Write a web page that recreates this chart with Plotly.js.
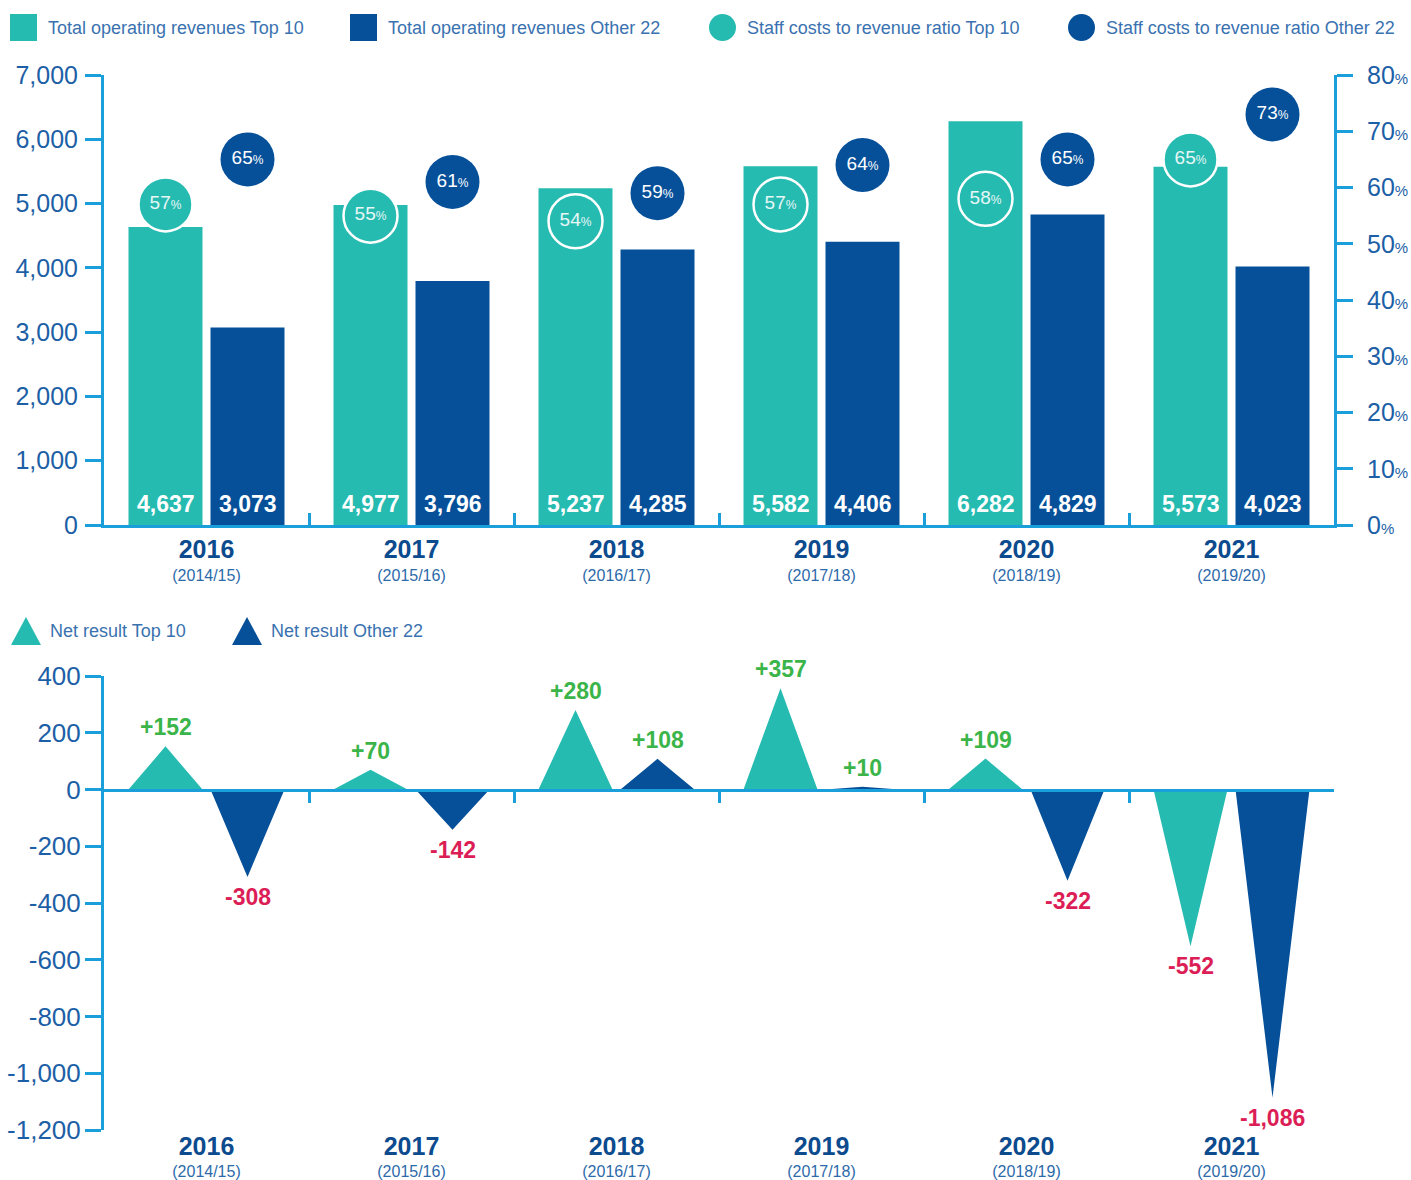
<!DOCTYPE html>
<html><head><meta charset="utf-8">
<script src="https://cdn.plot.ly/plotly-3.0.1.min.js"></script>
<style>html,body{margin:0;padding:0;background:#fff}#chart{width:1411px;height:1180px}</style>
</head><body><div id="chart"></div>
<script>
// ---------- DATA ----------
const years = ['2016','2017','2018','2019','2020','2021'];
const seasons = ['(2014/15)','(2015/16)','(2016/17)','(2017/18)','(2018/19)','(2019/20)'];
const revenueTop10 = [4637, 4977, 5237, 5582, 6282, 5573];
const revenueOther22 = [3073, 3796, 4285, 4406, 4829, 4023];
const staffRatioTop10 = [57, 55, 54, 57, 58, 65];
const staffRatioOther22 = [65, 61, 59, 64, 65, 73];
const netResultTop10 = [152, 70, 280, 357, 109, -552];
const netResultOther22 = [-308, -142, 108, 10, -322, -1086];
const revenueTicks = [0, 1000, 2000, 3000, 4000, 5000, 6000, 7000];
const ratioTicks = [0, 10, 20, 30, 40, 50, 60, 70, 80];
const netTicks = [-1200, -1000, -800, -600, -400, -200, 0, 200, 400];
const legendTopLabels = ['Total operating revenues Top 10','Total operating revenues Other 22','Staff costs to revenue ratio Top 10','Staff costs to revenue ratio Other 22'];
const legendBottomLabels = ['Net result Top 10','Net result Other 22'];

// ---------- STYLE ----------
const W = 1411, H = 1180;
const FONT = '"Liberation Sans", Arial, sans-serif';
const TEAL = '#26bbb1', NAVY = '#06509a', AXIS = '#1a9fdb', TICK = '#1d5fa6';
const LEGTXT = '#3a72b0', YEAR = '#0c4b8e', SEASON = '#2d6aaa', GREEN = '#3bb54a', RED = '#dc1e57';
const BARGAP = 0.2, GROUPGAP = 0.0975;
const SLOT = (1 - BARGAP) / 2;
const OFF = SLOT / 2;
const HALF = SLOT * (1 - GROUPGAP) / 2;

const px = v => v / W, py = v => 1 - v / H;
const xDom = [px(104), px(1334)];
const topDom = [py(525), py(75)];
const botDom = [py(1130), py(676)];
const idx = years.map((_, i) => i);
const between = idx.slice(0, -1).map(i => i + 0.5);
const catText = years.map((y, i) => `<b><span style="font-size:25px">${y}</span></b><br><span style="font-size:16px;color:${SEASON}">${seasons[i]}</span>`);
const fmt = v => (v < 0 ? '-' : '') + Math.abs(v).toLocaleString('en-US');
const pctText = v => `${v}<span style="font-size:12px">%</span>`;

// ---------- TRACES ----------
const traces = [];
traces.push({type:'bar', x:idx, y:revenueTop10, xaxis:'x', yaxis:'y', marker:{color:TEAL}, hoverinfo:'skip', name:legendTopLabels[0]});
traces.push({type:'bar', x:idx, y:revenueOther22, xaxis:'x', yaxis:'y', marker:{color:NAVY}, hoverinfo:'skip', name:legendTopLabels[1]});
traces.push({type:'scatter', mode:'markers+text', x:idx.map(i => i - OFF), y:staffRatioTop10, xaxis:'x', yaxis:'y2',
  marker:{size:54, color:TEAL, line:{color:'#ffffff', width:2.5}}, text:staffRatioTop10.map(pctText),
  textposition:'middle center', textfont:{family:FONT, size:19, color:'#e6f7f5'}, hoverinfo:'skip', name:legendTopLabels[2]});
traces.push({type:'scatter', mode:'markers+text', x:idx.map(i => i + OFF), y:staffRatioOther22, xaxis:'x', yaxis:'y2',
  marker:{size:54, color:NAVY}, text:staffRatioOther22.map(pctText),
  textposition:'middle center', textfont:{family:FONT, size:19, color:'#ffffff'}, hoverinfo:'skip', name:legendTopLabels[3]});

function triangles(values, off) {
  const xs = [], ys = [];
  values.forEach((v, i) => { const c = i + off; xs.push(c - HALF, c, c + HALF, c - HALF, null); ys.push(0, v, 0, 0, null); });
  return {xs, ys};
}
const annotations = [];
[[netResultTop10, -OFF, TEAL, legendBottomLabels[0]], [netResultOther22, OFF, NAVY, legendBottomLabels[1]]].forEach(([vals, off, col, nm]) => {
  const t = triangles(vals, off);
  traces.push({type:'scatter', mode:'lines', x:t.xs, y:t.ys, xaxis:'x2', yaxis:'y3', fill:'toself', fillcolor:col,
    line:{width:0, color:col}, hoverinfo:'skip', name:nm});
  vals.forEach((v, i) => {
    annotations.push({xref:'x2', yref:'y3', x:i + off, y:v, showarrow:false,
      yanchor: v >= 0 ? 'bottom' : 'top', yshift: v >= 0 ? 4 : -5,
      text:(v > 0 ? '+' : '') + fmt(v), font:{family:FONT, size:23, weight:700, color: v >= 0 ? GREEN : RED}});
  });
});
// bar value labels at the foot of each bar
[[revenueTop10, -OFF], [revenueOther22, OFF]].forEach(([vals, off]) => {
  vals.forEach((v, i) => {
    annotations.push({xref:'x', yref:'y', x:i + off, y:0, showarrow:false, yanchor:'bottom', yshift:6,
      text:fmt(v), font:{family:FONT, size:23, weight:700, color:'#ffffff'}});
  });
});
// carrier for the zero-line axis
traces.push({type:'scatter', mode:'markers', x:[0], y:[0], xaxis:'x3', yaxis:'y3', marker:{opacity:0, size:1}, hoverinfo:'skip'});

// ---------- LAYOUT ----------
const zeroFrac = botDom[0] + (0 - netTicks[0]) / (netTicks[netTicks.length-1] - netTicks[0]) * (botDom[1] - botDom[0]);
const yCommon = {showline:true, linecolor:AXIS, linewidth:3, ticks:'outside', ticklen:16, tickwidth:3, tickcolor:AXIS,
  showgrid:false, zeroline:false, tickfont:{family:FONT, size:25, color:TICK}, fixedrange:true};
const xLabels = {range:[-0.5, 5.5], tickmode:'array', tickvals:idx, ticktext:catText, ticks:'',
  showgrid:false, zeroline:false, tickfont:{family:FONT, size:18, color:YEAR}, fixedrange:true};

const shapes = [];
const topLegX = [10, 350, 709, 1068];
const topLegColors = [TEAL, NAVY, TEAL, NAVY];
legendTopLabels.forEach((lab, i) => {
  const x0 = topLegX[i];
  shapes.push({type: i < 2 ? 'rect' : 'circle', xref:'paper', yref:'paper', x0:px(x0), x1:px(x0 + 27), y0:py(41), y1:py(14),
    fillcolor:topLegColors[i], line:{width:0}});
  annotations.push({xref:'paper', yref:'paper', x:px(x0 + 36), y:py(28), xanchor:'left', yanchor:'middle', showarrow:false,
    text:lab, font:{family:FONT, size:18, color:LEGTXT}});
});
const botLegX = [11, 232];
const botLegColors = [TEAL, NAVY];
legendBottomLabels.forEach((lab, i) => {
  const x0 = botLegX[i];
  shapes.push({type:'path', xref:'paper', yref:'paper',
    path:`M${px(x0)},${py(645)} L${px(x0 + 15)},${py(617)} L${px(x0 + 30)},${py(645)} Z`, fillcolor:botLegColors[i], line:{width:0}});
  annotations.push({xref:'paper', yref:'paper', x:px(x0 + 37), y:py(631), xanchor:'left', yanchor:'middle', showarrow:false,
    text:lab, font:{family:FONT, size:18, color:LEGTXT}});
});

const layout = {
  width:W, height:H, margin:{l:0, r:0, t:0, b:0, pad:0},
  paper_bgcolor:'#ffffff', plot_bgcolor:'rgba(0,0,0,0)', showlegend:false,
  font:{family:FONT, color:TICK},
  barmode:'group', bargap:BARGAP, bargroupgap:GROUPGAP,
  xaxis:Object.assign({}, xLabels, {domain:xDom, anchor:'y', showline:true, linecolor:AXIS, linewidth:3, ticklabelstandoff:8,
    minor:{tickmode:'array', tickvals:between, ticks:'inside', ticklen:12, tickwidth:3, tickcolor:AXIS}}),
  yaxis:Object.assign({}, yCommon, {domain:topDom, anchor:'x', range:[revenueTicks[0], revenueTicks[revenueTicks.length-1]],
    tickmode:'array', tickvals:revenueTicks, ticktext:revenueTicks.map(v => fmt(v)), ticklabelstandoff:2}),
  yaxis2:Object.assign({}, yCommon, {overlaying:'y', side:'right', anchor:'x', range:[ratioTicks[0], ratioTicks[ratioTicks.length-1]],
    tickmode:'array', tickvals:ratioTicks, ticktext:ratioTicks.map(v => `${v}<span style="font-size:15px">%</span>`), ticklabelstandoff:9}),
  xaxis2:Object.assign({}, xLabels, {domain:xDom, anchor:'y3', showline:false, ticklabelstandoff:7,
    tickfont:{family:FONT, size:17, color:YEAR}}),
  xaxis3:{overlaying:'x2', anchor:'free', position:zeroFrac, range:[-0.5, 5.5], showline:true, linecolor:AXIS, linewidth:3,
    tickmode:'array', tickvals:between, ticks:'outside', ticklen:11, tickwidth:3, tickcolor:AXIS, showticklabels:false,
    showgrid:false, zeroline:false, fixedrange:true},
  yaxis3:Object.assign({}, yCommon, {domain:botDom, anchor:'x2', range:[netTicks[0], netTicks[netTicks.length-1]],
    tickmode:'array', tickvals:netTicks, ticktext:netTicks.map(v => fmt(v)), ticklabelstandoff:-1,
    tickfont:{family:FONT, size:26, color:TICK}}),
  shapes, annotations
};

Plotly.newPlot('chart', traces, layout, {displayModeBar:false, staticPlot:true});
</script>
</body></html>
